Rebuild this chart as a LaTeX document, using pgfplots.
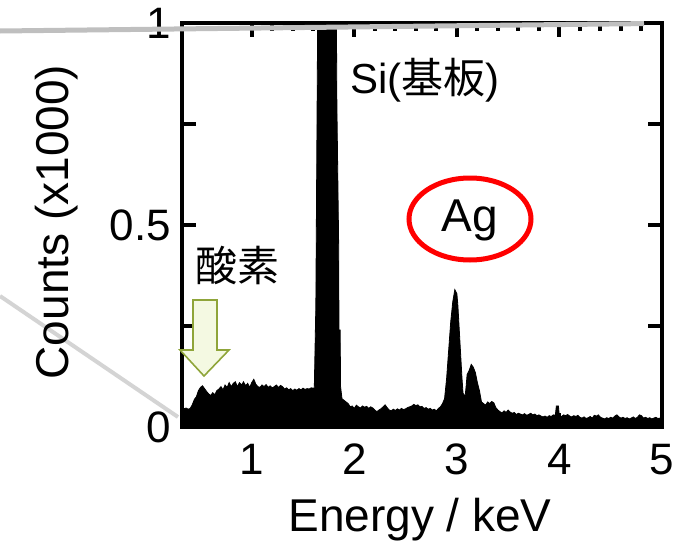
\documentclass[border=0pt]{standalone}
\usepackage{pgfplots}
\pgfplotsset{compat=1.18}
\usepackage{fontspec}
\setmainfont{Liberation Sans}
\newfontfamily\cjk{Noto Sans CJK JP}
\definecolor{arrowfill}{HTML}{F4F9E2}
\definecolor{arrowdraw}{HTML}{8FA53A}
\begin{document}
\begin{tikzpicture}
\path[use as bounding box] (0,0) rectangle (348pt,-273pt);
\begin{axis}[
  at={(91pt,-213.5pt)}, anchor=south west,
  scale only axis, width=240pt, height=202pt,
  xmin=0.32, xmax=5, ymin=0, ymax=1,
  xtick={1,2,3,4,5}, minor x tick num=4,
  ytick={0,0.25,0.5,0.75,1}, yticklabels={0,,0.5,,1},
  tick align=inside, tick pos=both,
  major tick length=7pt, minor tick length=4pt,
  every tick/.style={black, line width=2pt},
  axis line style={line width=2pt},
  /pgf/number format/assume math mode=true,
  ticklabel style={font=\fontsize{22}{26}\selectfont},
  xticklabel style={yshift=-5pt},
  yticklabel style={xshift=-2pt},
  clip=true,
]
\addplot[fill=black, draw=black, line width=0.4pt] coordinates {
(0.32,0.05)(0.34,0.045)(0.36,0.047)(0.38,0.044)(0.40,0.046)(0.42,0.055)(0.44,0.068)(0.46,0.075)(0.48,0.09)(0.50,0.098)
(0.52,0.102)(0.54,0.095)(0.56,0.088)(0.58,0.082)(0.60,0.078)(0.62,0.085)(0.64,0.08)(0.66,0.09)(0.68,0.094)(0.70,0.1)
(0.72,0.092)(0.74,0.104)(0.76,0.098)(0.78,0.11)(0.80,0.1)(0.82,0.108)(0.84,0.112)(0.86,0.1)(0.88,0.11)(0.90,0.104)
(0.92,0.112)(0.94,0.102)(0.96,0.108)(0.98,0.098)(1.00,0.11)(1.02,0.118)(1.04,0.106)(1.06,0.1)(1.08,0.098)(1.10,0.104)
(1.12,0.1)(1.14,0.105)(1.16,0.098)(1.18,0.102)(1.20,0.097)(1.22,0.1)(1.24,0.104)(1.26,0.098)(1.28,0.103)(1.30,0.1)
(1.32,0.094)(1.34,0.097)(1.36,0.092)(1.38,0.095)(1.40,0.09)(1.42,0.094)(1.44,0.091)(1.46,0.095)(1.48,0.092)(1.50,0.096)
(1.52,0.093)(1.54,0.095)(1.56,0.094)(1.58,0.097)(1.60,0.096)(1.61,0.097)
(1.625,0.3)(1.64,0.9)(1.655,1.5)(1.74,3)(1.815,1.5)(1.83,0.8)(1.848,0.44)(1.85,0.24)(1.862,0.24)(1.866,0.1)(1.88,0.07)
(1.90,0.066)(1.92,0.062)(1.94,0.058)(1.96,0.05)(1.98,0.052)(2.00,0.046)(2.02,0.054)(2.04,0.05)(2.06,0.047)(2.08,0.052)
(2.10,0.049)(2.12,0.051)(2.14,0.046)(2.16,0.05)(2.18,0.047)(2.20,0.042)(2.22,0.038)(2.24,0.042)(2.26,0.045)(2.28,0.05)
(2.30,0.055)(2.32,0.048)(2.34,0.042)(2.36,0.04)(2.38,0.044)(2.40,0.041)(2.42,0.045)(2.44,0.042)(2.46,0.046)(2.48,0.043)
(2.50,0.045)(2.52,0.048)(2.54,0.05)(2.56,0.052)(2.58,0.056)(2.60,0.053)(2.62,0.055)(2.64,0.05)(2.66,0.051)(2.68,0.046)
(2.70,0.048)(2.72,0.044)(2.74,0.046)(2.76,0.042)(2.78,0.044)(2.80,0.04)(2.82,0.046)(2.84,0.05)(2.86,0.058)(2.88,0.07)
(2.90,0.12)(2.92,0.19)(2.94,0.26)(2.96,0.31)(2.98,0.34)(3.00,0.33)(3.01,0.30)(3.03,0.21)(3.05,0.12)(3.06,0.084)
(3.08,0.075)(3.09,0.1)(3.10,0.13)(3.12,0.14)(3.14,0.155)(3.16,0.148)(3.18,0.135)(3.20,0.11)(3.22,0.09)(3.24,0.062)
(3.26,0.058)(3.28,0.054)(3.30,0.062)(3.32,0.058)(3.34,0.063)(3.36,0.06)(3.38,0.048)(3.40,0.042)(3.42,0.038)(3.44,0.035)
(3.46,0.04)(3.48,0.036)(3.50,0.042)(3.52,0.037)(3.54,0.034)(3.56,0.036)(3.58,0.031)(3.60,0.034)(3.62,0.032)(3.64,0.03)
(3.66,0.033)(3.68,0.029)(3.70,0.031)(3.72,0.034)(3.74,0.03)(3.76,0.032)(3.78,0.028)(3.80,0.03)(3.82,0.027)(3.84,0.025)
(3.86,0.027)(3.88,0.024)(3.90,0.028)(3.92,0.026)(3.94,0.03)(3.96,0.029)(3.97,0.052)(3.99,0.052)(4.00,0.025)(4.02,0.026)
(4.04,0.03)(4.06,0.028)(4.08,0.031)(4.10,0.027)(4.12,0.025)(4.14,0.028)(4.16,0.026)(4.18,0.029)(4.20,0.024)(4.22,0.022)
(4.24,0.025)(4.26,0.021)(4.28,0.023)(4.30,0.026)(4.32,0.022)(4.34,0.029)(4.36,0.027)(4.38,0.03)(4.40,0.024)(4.42,0.022)
(4.44,0.02)(4.46,0.023)(4.48,0.021)(4.50,0.024)(4.52,0.022)(4.54,0.027)(4.56,0.03)(4.58,0.025)(4.60,0.022)(4.62,0.024)
(4.64,0.021)(4.66,0.023)(4.68,0.02)(4.70,0.022)(4.72,0.025)(4.74,0.021)(4.76,0.024)(4.78,0.03)(4.80,0.028)(4.82,0.022)
(4.84,0.024)(4.86,0.021)(4.88,0.023)(4.90,0.02)(4.92,0.022)(4.94,0.024)(4.96,0.021)(4.98,0.022)(5.00,0.022)
} \closedcycle;
\end{axis}
% gray magnification lines
\draw[line width=2.5pt, color=black!25] (0pt,-15.5pt) -- (322pt,-11.8pt);
\draw[line width=2pt, color=black!17] (0pt,-148pt) -- (89pt,-208.5pt);
% axis labels
\node[font=\fontsize{23}{27}\selectfont] at (210pt,-260pt) {Energy / keV};
\node[font=\fontsize{23}{27}\selectfont, rotate=90] at (28.5pt,-111pt) {Counts (x1000)};
% annotations
\node[font=\fontsize{21}{25}\selectfont] at (212.5pt,-40pt) {Si(\cjk 基板\normalfont)};
\node[font=\fontsize{21}{25}\selectfont] at (118.5pt,-132.5pt) {\cjk 酸素};
\node[font=\fontsize{23}{27}\selectfont] at (235pt,-110pt) {Ag};
\draw[red, line width=2.5pt] (235pt,-109.5pt) ellipse [x radius=30.5pt, y radius=20.5pt];
\draw[arrowdraw, fill=arrowfill, line width=0.8pt, line join=miter]
  (96.5pt,-150pt) -- (108.5pt,-150pt) -- (108.5pt,-175pt) -- (114.5pt,-175pt)
  -- (102pt,-188pt) -- (90pt,-175pt) -- (96.5pt,-175pt) -- cycle;
\end{tikzpicture}
\end{document}
